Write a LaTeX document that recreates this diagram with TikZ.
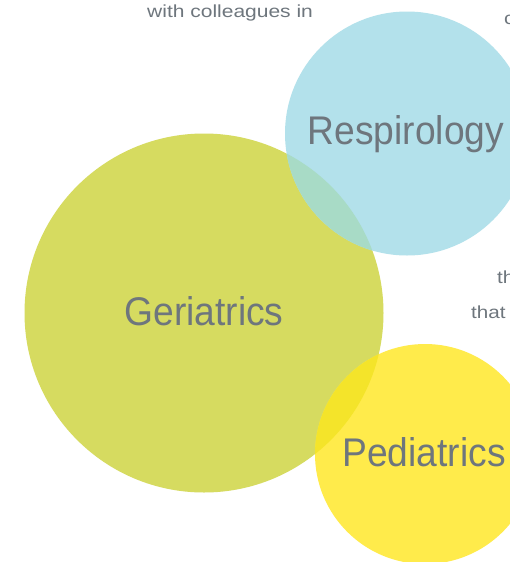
\documentclass[tikz,border=0pt]{standalone}
\usepackage{fontspec}
\setmainfont{Liberation Sans}
\usepackage{graphicx}
\definecolor{geri}{HTML}{D6DB60}
\definecolor{resp}{HTML}{B3E1EB}
\definecolor{pedi}{HTML}{FFEB4B}
\definecolor{gerirespmix}{HTML}{A8DBC6}
\definecolor{geripedimix}{HTML}{F4E42A}
\definecolor{txtgray}{HTML}{6E767D}
\newcommand{\widetext}[1]{\scalebox{1.18}[1]{#1}}
\newcommand{\tallbig}[1]{\scalebox{0.93}[1]{#1}}
\tikzset{
  biglabel/.style={text=txtgray, font=\fontsize{40}{44}\selectfont, inner sep=0pt, anchor=base},
  smalltext/.style={text=txtgray, font=\fontsize{17.5}{20}\selectfont, inner sep=0pt, anchor=base west}
}
\begin{document}
\begin{tikzpicture}[x=1pt,y=-1pt]
\useasboundingbox (0,0) rectangle (510,562);
\clip (0,0) rectangle (510,562);
\fill[white] (0,0) rectangle (510,562);
% circles
\fill[geri] (204,313) circle[radius=179.5pt];
\fill[resp] (407,133.5) circle[radius=122pt];
\fill[pedi] (425,454) circle[radius=110pt];
% overlaps
\begin{scope}
  \clip (204,313) circle[radius=179.5pt];
  \fill[gerirespmix] (407,133.5) circle[radius=122pt];
  \fill[geripedimix] (425,454) circle[radius=110pt];
\end{scope}
% labels
\node[biglabel] (geriatrics) at (204,325) {\tallbig{Geriatrics}};
\node[biglabel] (respirology) at (406,144) {\tallbig{Respirology}};
\node[biglabel] (pediatrics) at (424,466) {\tallbig{Pediatrics}};
% text fragments
\node[smalltext] (colleagues) at (147,17) {\scalebox{1.2}[1]{with colleagues in}};
\node[smalltext] (cfrag) at (504,24) {\widetext{c}};
\node[smalltext] (thfrag) at (497,283) {\widetext{th}};
\node[smalltext] (thatfrag) at (471,318) {\widetext{that}};
\end{tikzpicture}
\end{document}
